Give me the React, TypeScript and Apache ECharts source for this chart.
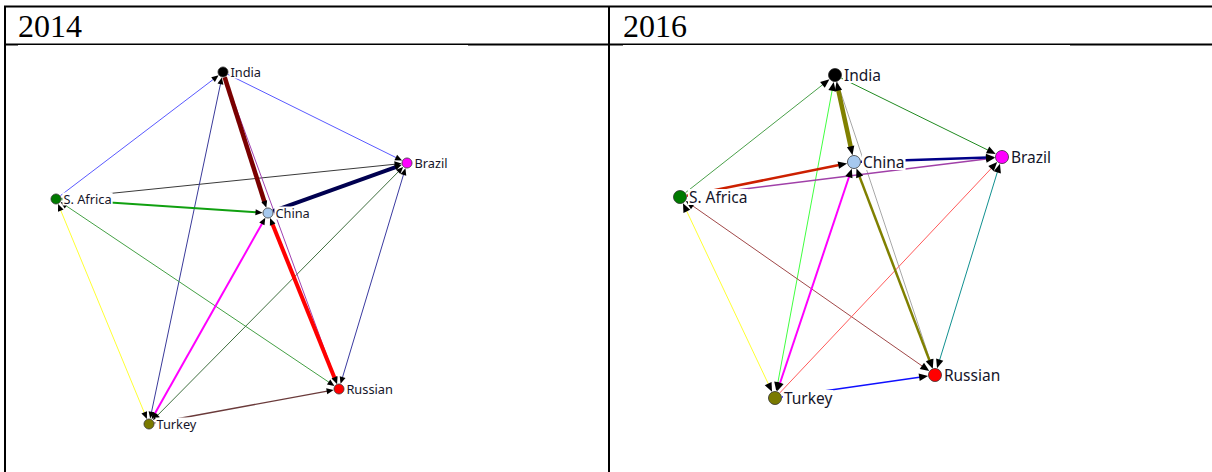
import React, { useEffect, useRef } from "react";
import * as echarts from "echarts";

// ---- data ----
const countries = ["India", "Brazil", "S. Africa", "China", "Russian", "Turkey"];
const nodeColors = ["#000000", "#ff00ff", "#007a00", "#a6c8ee", "#ff0000", "#7a7a00"];

// network layout coordinates (layout space of each panel)
const layout2014: number[][] = [
  [217, 26], [401, 117], [50, 153], [262, 167], [333, 343], [143, 378],
];
const layout2016: number[][] = [
  [225, 29], [392, 111], [70, 151], [244, 116], [325, 329], [165, 352],
];

// ties: [source, target, strength, reciprocal(1 = one way, 2 = both ways)]
const ties2014: [string, string, number, number][] = [
  ["S. Africa", "India", 1, 1],
  ["India", "Brazil", 1, 1],
  ["S. Africa", "Brazil", 1, 1],
  ["Turkey", "India", 1, 2],
  ["Russian", "S. Africa", 1, 2],
  ["Turkey", "S. Africa", 1, 2],
  ["Turkey", "Brazil", 1, 2],
  ["Brazil", "Russian", 1, 2],
  ["Turkey", "Russian", 1.4, 1],
  ["India", "Russian", 1, 1],
  ["S. Africa", "China", 2, 1],
  ["Turkey", "China", 2, 2],
  ["China", "Brazil", 4, 1],
  ["India", "China", 4.5, 1],
  ["China", "Russian", 4, 2],
];
const tieColors2014 = [
  "#5a5aff", "#5a5aff", "#3a3a3a", "#3a3a9a", "#45a045", "#ffff33", "#3f6f3f",
  "#3a3aa0", "#6a3a3a", "#a040b0", "#10a010", "#ff00ff", "#000050", "#7a0000", "#ff0000",
];

const ties2016: [string, string, number, number][] = [
  ["S. Africa", "India", 1, 1],
  ["India", "Brazil", 1, 1],
  ["India", "Russian", 1, 1],
  ["Turkey", "India", 1, 2],
  ["Turkey", "S. Africa", 1, 2],
  ["Russian", "S. Africa", 1, 2],
  ["Turkey", "Brazil", 1, 1],
  ["Brazil", "Russian", 1, 2],
  ["Turkey", "Russian", 1.3, 1],
  ["S. Africa", "Brazil", 1.5, 1],
  ["Turkey", "China", 2, 2],
  ["S. Africa", "China", 2.5, 1],
  ["China", "Brazil", 2.5, 1],
  ["China", "Russian", 2.5, 2],
  ["India", "China", 4.5, 2],
];
const tieColors2016 = [
  "#4aa04a", "#208a20", "#a8a8a8", "#40ff40", "#ffff33", "#a04848", "#ff5a5a",
  "#109090", "#1010ff", "#a040a8", "#ff00ff", "#cc2000", "#000088", "#808000", "#808000",
];

const years = ["2014", "2016"];

function buildTies(ties: [string, string, number, number][], layout: number[][]) {
  return ties.map(([s, t, w, d]) => {
    const a = layout[countries.indexOf(s)];
    const b = layout[countries.indexOf(t)];
    return [a[0], a[1], b[0], b[1], w, d];
  });
}

function buildNodes(layout: number[][]) {
  return countries.map((name, i) => ({
    name,
    value: [layout[i][0], layout[i][1]],
    itemStyle: { color: nodeColors[i] },
  }));
}

function makeRender(radius: number, aLen: number, aW: number, colors: string[]) {
  return (params: any, api: any) => {
    const a = api.coord([api.value(0), api.value(1)]);
    const b = api.coord([api.value(2), api.value(3)]);
    const w = api.value(4);
    const both = api.value(5) === 2;
    const color = colors[params.dataIndex];
    const dx = b[0] - a[0];
    const dy = b[1] - a[1];
    const len = Math.hypot(dx, dy);
    const ux = dx / len;
    const uy = dy / len;
    const px = -uy;
    const py = ux;
    const tipB = [b[0] - ux * radius, b[1] - uy * radius];
    const baseB = [tipB[0] - ux * aLen, tipB[1] - uy * aLen];
    const tipA = [a[0] + ux * radius, a[1] + uy * radius];
    const baseA = both ? [tipA[0] + ux * aLen, tipA[1] + uy * aLen] : tipA;
    const children: any[] = [
      {
        type: "line",
        shape: {
          x1: baseA[0] - (both ? ux * 2 : 0),
          y1: baseA[1] - (both ? uy * 2 : 0),
          x2: baseB[0] + ux * 2,
          y2: baseB[1] + uy * 2,
        },
        style: { stroke: color, lineWidth: w, lineCap: "butt" },
      },
      {
        type: "polygon",
        shape: {
          points: [
            tipB,
            [baseB[0] + px * aW / 2, baseB[1] + py * aW / 2],
            [baseB[0] - px * aW / 2, baseB[1] - py * aW / 2],
          ],
        },
        style: { fill: "#000" },
      },
    ];
    if (both) {
      children.push({
        type: "polygon",
        shape: {
          points: [
            tipA,
            [baseA[0] + px * aW / 2, baseA[1] + py * aW / 2],
            [baseA[0] - px * aW / 2, baseA[1] - py * aW / 2],
          ],
        },
        style: { fill: "#000" },
      });
    }
    return { type: "group", children };
  };
}

export default function App() {
  const ref = useRef<HTMLDivElement>(null);
  useEffect(() => {
    if (!ref.current) return;
    const chart = echarts.init(ref.current, null, { renderer: "svg" });
    const border = "#000";
    const option: any = {
      animation: false,
      backgroundColor: "#fff",
      grid: [
        { left: 6, top: 46, width: 600, height: 426 },
        { left: 610, top: 46, width: 600, height: 426 },
      ],
      xAxis: [
        { type: "value", min: 0, max: 600, show: false, gridIndex: 0 },
        { type: "value", min: 0, max: 600, show: false, gridIndex: 1 },
      ],
      yAxis: [
        { type: "value", min: 0, max: 426, inverse: true, show: false, gridIndex: 0 },
        { type: "value", min: 0, max: 426, inverse: true, show: false, gridIndex: 1 },
      ],
      graphic: [
        { type: "line", shape: { x1: 4, y1: 6.5, x2: 1212, y2: 6.5 }, style: { stroke: border, lineWidth: 2 } },
        { type: "line", shape: { x1: 5, y1: 6, x2: 5, y2: 472 }, style: { stroke: border, lineWidth: 2 } },
        { type: "line", shape: { x1: 609, y1: 6, x2: 609, y2: 472 }, style: { stroke: border, lineWidth: 2 } },
        { type: "line", shape: { x1: 4, y1: 44.5, x2: 1212, y2: 44.5 }, style: { stroke: border, lineWidth: 2 } },
        { type: "rect", shape: { x: 18, y: 45, width: 450, height: 1.2 }, style: { fill: "#fff" } },
        { type: "rect", shape: { x: 623, y: 45, width: 447, height: 1.2 }, style: { fill: "#fff" } },
        {
          type: "text", x: 18, y: 26,
          style: { text: years[0], font: '32px "Liberation Serif"', fill: "#000", verticalAlign: "middle" },
        },
        {
          type: "text", x: 623, y: 26,
          style: { text: years[1], font: '32px "Liberation Serif"', fill: "#000", verticalAlign: "middle" },
        },
      ],
      series: [
        {
          type: "custom",
          xAxisIndex: 0,
          yAxisIndex: 0,
          z: 1,
          silent: true,
          renderItem: makeRender(5.5, 7, 6, tieColors2014),
          encode: { x: [0, 2], y: [1, 3] },
          data: buildTies(ties2014, layout2014),
        },
        {
          type: "custom",
          xAxisIndex: 1,
          yAxisIndex: 1,
          z: 1,
          silent: true,
          renderItem: makeRender(7, 9, 7.5, tieColors2016),
          encode: { x: [0, 2], y: [1, 3] },
          data: buildTies(ties2016, layout2016),
        },
        {
          type: "scatter",
          xAxisIndex: 0,
          yAxisIndex: 0,
          z: 5,
          symbolSize: 10,
          itemStyle: { borderColor: "#333", borderWidth: 0.8, opacity: 1 },
          label: {
            show: true,
            position: "right",
            distance: 1,
            formatter: "{b}",
            fontFamily: "Noto Sans",
            fontSize: 12.8,
            color: "#15152a",
            backgroundColor: "#fff",
            padding: [0, 1, 0, 1],
          },
          data: buildNodes(layout2014),
        },
        {
          type: "scatter",
          xAxisIndex: 1,
          yAxisIndex: 1,
          z: 5,
          symbolSize: 13,
          itemStyle: { borderColor: "#333", borderWidth: 0.8, opacity: 1 },
          label: {
            show: true,
            position: "right",
            distance: 1,
            formatter: "{b}",
            fontFamily: "Noto Sans",
            fontSize: 15.5,
            color: "#15152a",
            backgroundColor: "#fff",
            padding: [0, 1, 0, 1],
          },
          data: buildNodes(layout2016),
        },
      ],
    };
    chart.setOption(option);
    return () => chart.dispose();
  }, []);
  return (
    <div
      ref={ref}
      style={{ position: "absolute", left: 0, top: 0, width: 1212, height: 472 }}
    />
  );
}
